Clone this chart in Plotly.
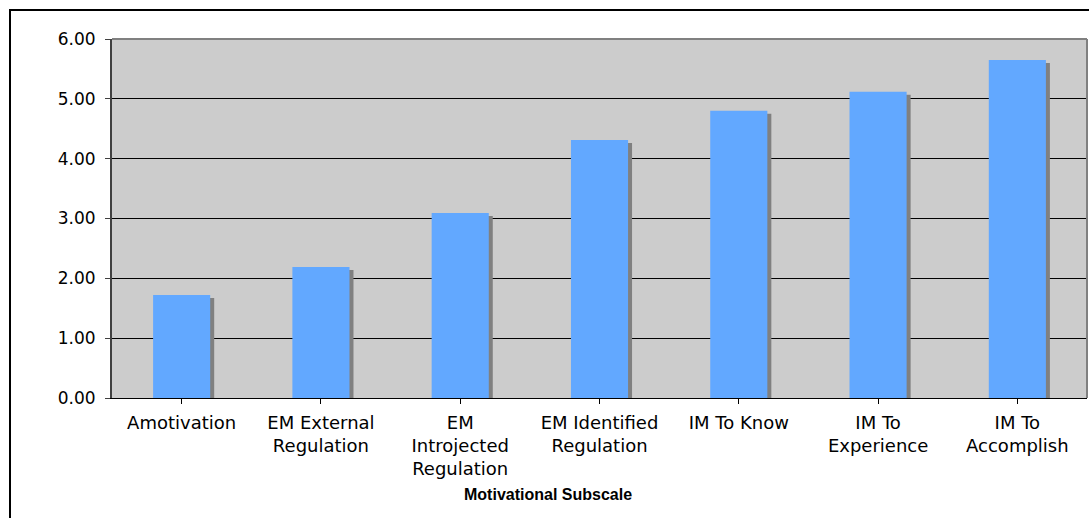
import plotly.graph_objects as go

# Mean score per motivational subscale
categories = [
    "Amotivation",
    "EM External Regulation",
    "EM Introjected Regulation",
    "EM Identified Regulation",
    "IM To Know",
    "IM To Experience",
    "IM To Accomplish",
]
tick_labels = [
    "Amotivation",
    "EM External<br>Regulation",
    "EM<br>Introjected<br>Regulation",
    "EM Identified<br>Regulation",
    "IM To Know",
    "IM To<br>Experience",
    "IM To<br>Accomplish",
]
scores = [1.72, 2.19, 3.09, 4.31, 4.80, 5.12, 5.65]
y_ticks = [0, 1, 2, 3, 4, 5, 6]

W, H = 1089, 518
M_L, M_R, M_T, M_B = 112, 2, 39, 120
plot_w = W - M_L - M_R
plot_h = H - M_T - M_B
cat_px = plot_w / len(categories)
unit_px = plot_h / 6.0

bar_w = 0.41
shadow_dx = 4 / cat_px
shadow_dy = 3 / unit_px

xs = list(range(len(categories)))

fig = go.Figure()

# drop shadow behind each bar
fig.add_trace(go.Bar(
    x=[x + shadow_dx for x in xs],
    y=scores,
    base=[-shadow_dy] * len(scores),
    width=bar_w,
    marker=dict(color="#808080", line=dict(width=0)),
    hoverinfo="skip",
    showlegend=False,
))
fig.add_trace(go.Bar(
    x=xs,
    y=scores,
    width=bar_w,
    marker=dict(color="#62A8FF", line=dict(width=0)),
    name="Score",
    showlegend=False,
))

font_family = "DejaVu Sans"

fig.update_layout(
    width=W,
    height=H,
    margin=dict(l=M_L, r=M_R, t=M_T, b=M_B, pad=0),
    barmode="overlay",
    paper_bgcolor="white",
    plot_bgcolor="#CCCCCC",
    font=dict(family=font_family, size=17, color="black"),
    showlegend=False,
)

fig.update_xaxes(
    range=[-0.5, len(categories) - 0.5],
    tickmode="array",
    tickvals=xs,
    ticktext=tick_labels,
    tickson="boundaries",
    ticks="outside",
    ticklen=5,
    tickcolor="#000000",
    ticklabelstandoff=3,
    showgrid=False,
    showline=True,
    linecolor="#000000",
    linewidth=1,
    zeroline=False,
    tickfont=dict(size=18),
)

fig.update_yaxes(
    range=[0, 6],
    tickmode="array",
    tickvals=y_ticks,
    ticktext=[f"{v:.2f}" for v in y_ticks],
    ticks="outside",
    ticklen=5,
    tickcolor="#404040",
    ticklabelstandoff=6,
    showgrid=True,
    gridcolor="#000000",
    gridwidth=1,
    showline=True,
    linecolor="#404040",
    linewidth=2,
    zeroline=False,
    tickfont=dict(size=17),
)

# plot area frame (top and right edges) and outer chart border
fig.add_shape(type="line", xref="paper", yref="paper", x0=0, x1=1, y0=1, y1=1,
              line=dict(color="#808080", width=2), layer="above")
fig.add_shape(type="line", xref="paper", yref="paper", x0=1, x1=1, y0=0, y1=1,
              line=dict(color="#808080", width=2), layer="above")

px_x = lambda p: (p - M_L) / plot_w
px_y = lambda p: (H - M_B - p) / plot_h
fig.add_shape(type="rect", xref="paper", yref="paper",
              x0=px_x(10), x1=px_x(W + 20), y0=px_y(10), y1=px_y(H + 20),
              line=dict(color="#000000", width=2), fillcolor="rgba(0,0,0,0)",
              layer="below")

fig.add_annotation(
    text="<b>Motivational Subscale</b>",
    xref="paper", yref="paper",
    x=px_x(548), y=px_y(495),
    xanchor="center", yanchor="middle",
    showarrow=False,
    font=dict(family="Liberation Sans", size=16, color="black"),
)

fig.write_html("out.html")
